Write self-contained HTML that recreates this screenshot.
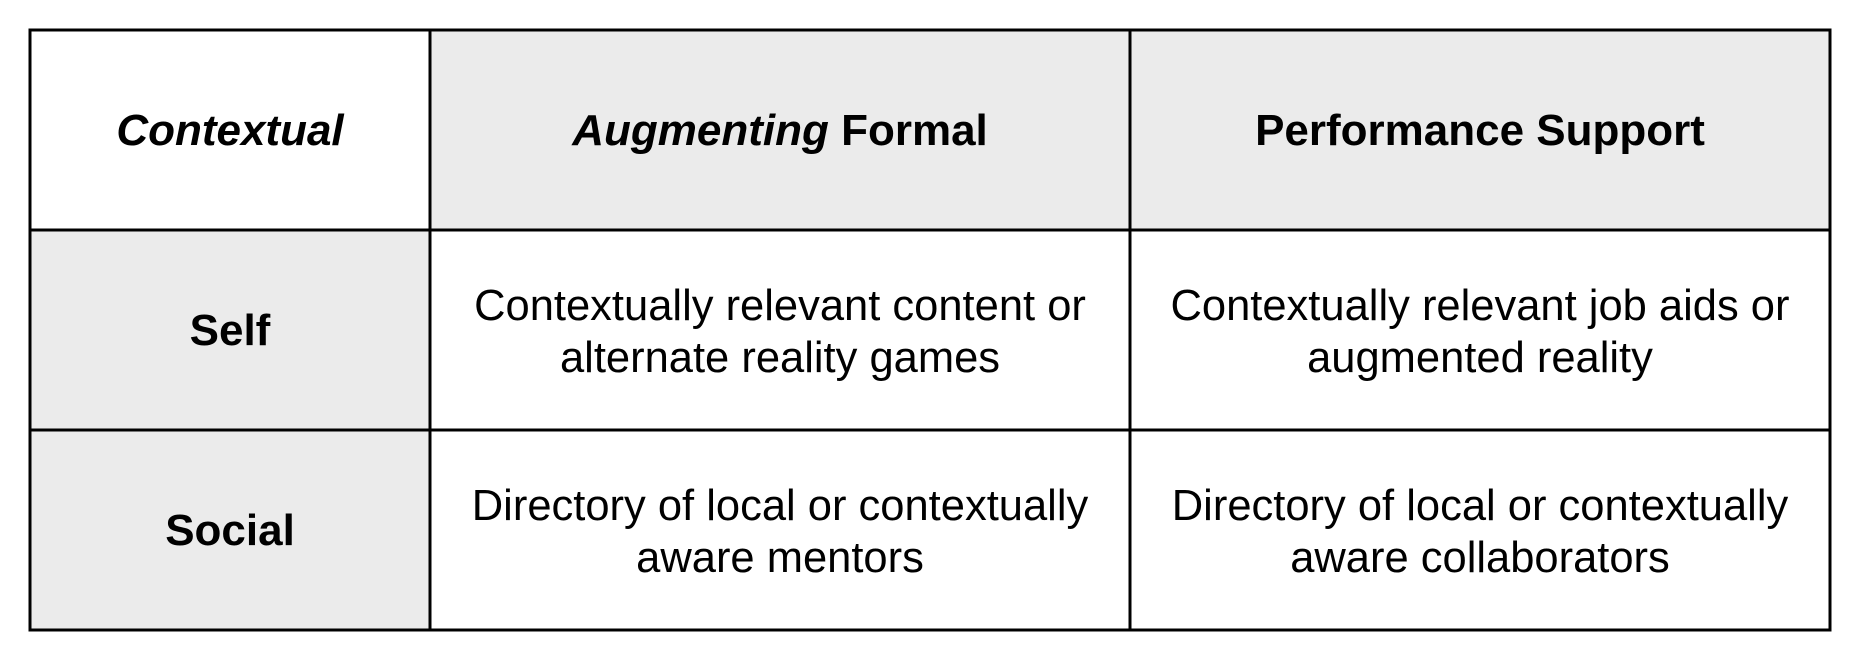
<!DOCTYPE html>
<html><head><meta charset="utf-8"><style>
html,body{margin:0;padding:0;background:#fff;}
body{width:1861px;height:661px;overflow:hidden;}
svg text{font-family:"Liberation Sans",Arial,sans-serif;fill:#000;}
</style></head><body>
<svg width="1861" height="661" viewBox="0 0 1861 661" xmlns="http://www.w3.org/2000/svg">
<rect x="430" y="30" width="1400" height="200" fill="#ebebeb"/>
<rect x="30" y="230" width="400" height="400" fill="#ebebeb"/>
<g stroke="#000" stroke-width="3" fill="none">
<rect x="30" y="30" width="1800" height="600"/>
<line x1="430" y1="30" x2="430" y2="630"/>
<line x1="1130" y1="30" x2="1130" y2="630"/>
<line x1="30" y1="230" x2="1830" y2="230"/>
<line x1="30" y1="430" x2="1830" y2="430"/>
</g>
<g font-size="44" font-weight="bold" text-anchor="middle">
<text x="230" y="145" font-style="italic">Contextual</text>
<text x="780" y="145"><tspan font-style="italic">Augmenting</tspan> Formal</text>
<text x="1480" y="145">Performance Support</text>
<text x="230" y="345">Self</text>
<text x="230" y="545">Social</text>
</g>
<g font-size="43.5" text-anchor="middle">
<text x="780" y="320">Contextually relevant content or</text>
<text x="780" y="372">alternate reality games</text>
<text x="1480" y="320">Contextually relevant job aids or</text>
<text x="1480" y="372">augmented reality</text>
<text x="780" y="520">Directory of local or contextually</text>
<text x="780" y="572">aware mentors</text>
<text x="1480" y="520">Directory of local or contextually</text>
<text x="1480" y="572">aware collaborators</text>
</g>
</svg>
</body></html>
